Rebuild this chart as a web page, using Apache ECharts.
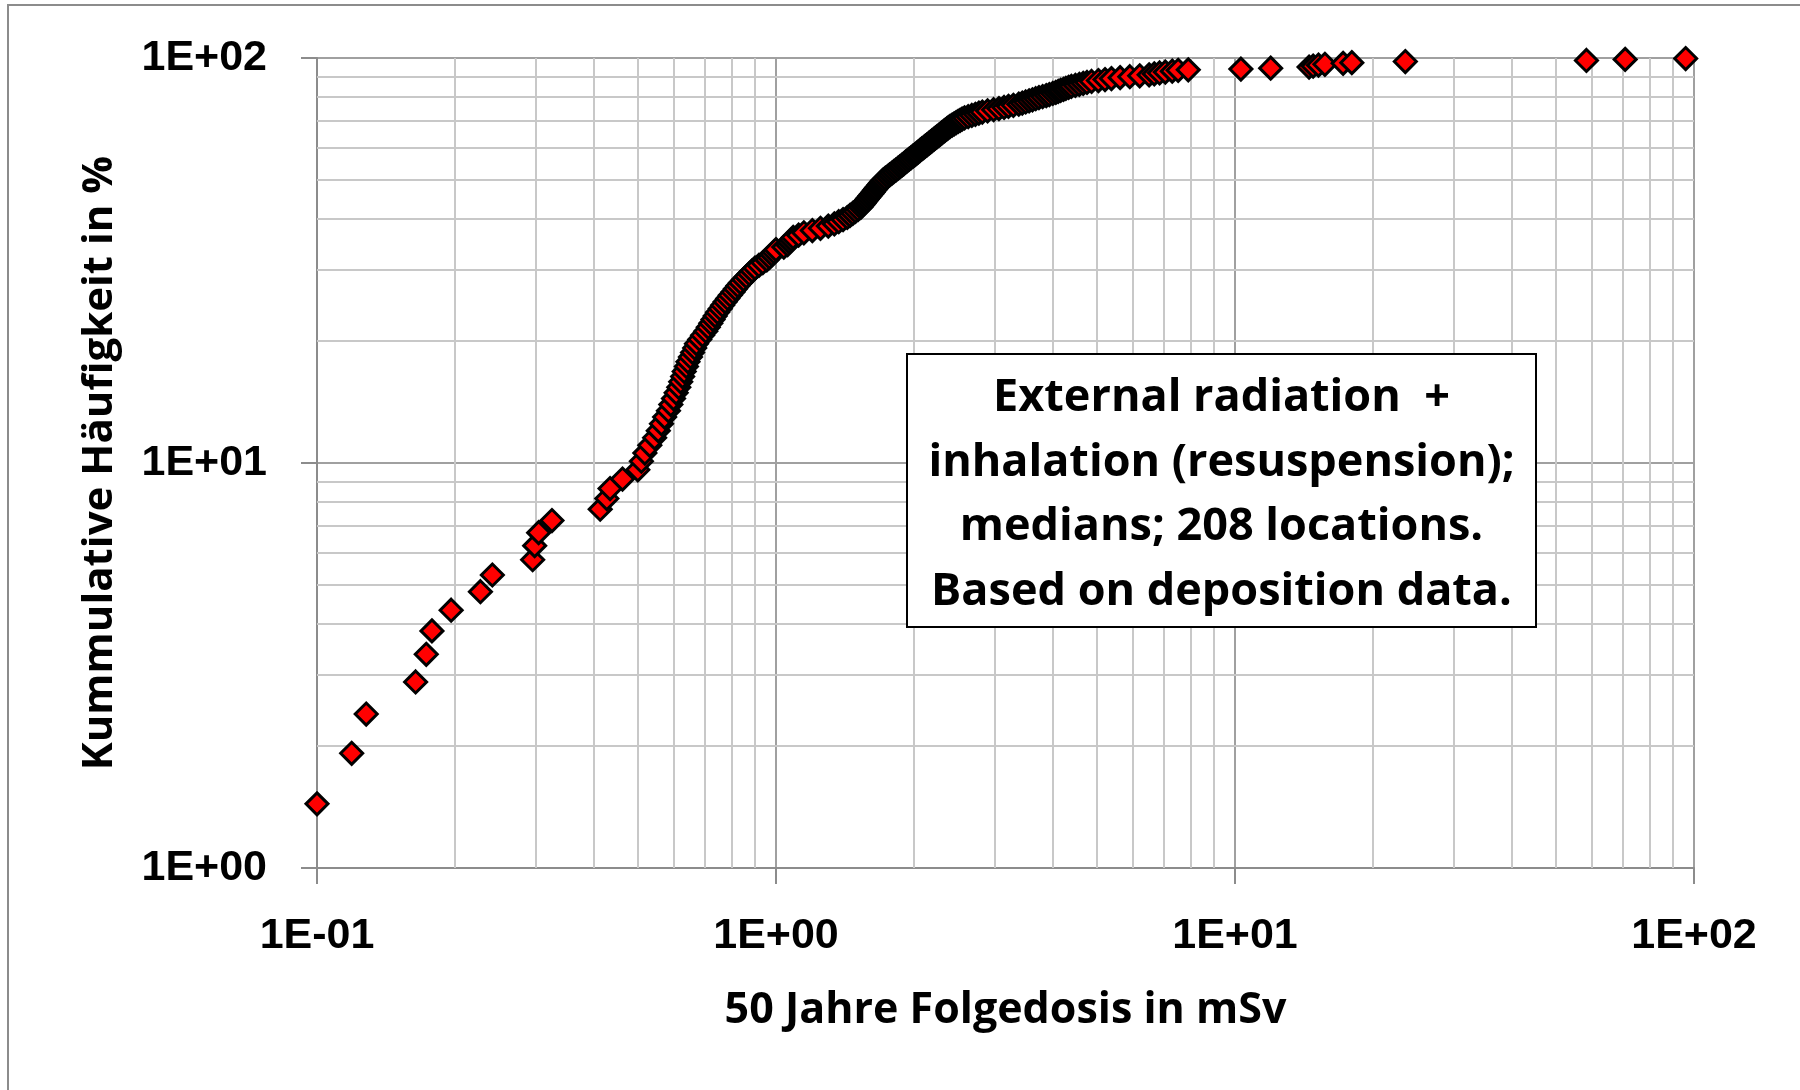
<!DOCTYPE html>
<html><head><meta charset="utf-8">
<script src="https://cdn.jsdelivr.net/npm/echarts@6/dist/echarts.min.js"></script>
<style>html,body{margin:0;padding:0;background:#fff}#chart{width:1800px;height:1090px}</style>
</head><body><div id="chart"></div>
<script>
// Tick values and labels
const xTickValues = [0.1, 1, 10, 100];
const xTickLabels = ['1E-01', '1E+00', '1E+01', '1E+02'];
const yTickValues = [1, 10, 100];
const yTickLabels = ['1E+00', '1E+01', '1E+02'];
const xMinorGrid = [0.2,0.3,0.4,0.5,0.6,0.7,0.8,0.9, 2,3,4,5,6,7,8,9, 20,30,40,50,60,70,80,90];
const yMinorGrid = [2,3,4,5,6,7,8,9, 20,30,40,50,60,70,80,90];

// 50-year committed dose (mSv)
const doseMSv = [
  0.100, 0.119, 0.128, 0.164, 0.173, 0.178, 0.196, 0.227, 0.241, 0.295, 0.298, 0.304, 0.325,
  0.414, 0.428, 0.435, 0.463, 0.500, 0.509, 0.518, 0.531, 0.544, 0.554, 0.563, 0.572, 0.583, 0.590, 0.598, 0.606, 0.614, 0.620,
  0.626, 0.631, 0.638, 0.643, 0.651, 0.658, 0.665, 0.671, 0.682, 0.692, 0.703, 0.712, 0.721, 0.729, 0.737, 0.746, 0.756, 0.765,
  0.775, 0.785, 0.795, 0.806, 0.816, 0.826, 0.837, 0.850, 0.862, 0.875, 0.887, 0.900, 0.918, 0.936, 0.955, 0.968, 0.980, 0.990,
  1.00, 1.04, 1.06, 1.07, 1.08, 1.09, 1.12, 1.15, 1.20, 1.25, 1.30, 1.34, 1.37, 1.40, 1.43, 1.45, 1.47, 1.49, 1.51, 1.53,
  1.542, 1.554, 1.566, 1.578, 1.590, 1.603, 1.615, 1.627, 1.639, 1.651, 1.664, 1.676, 1.688, 1.700, 1.713,
  1.731, 1.750, 1.768, 1.787, 1.805, 1.824, 1.843, 1.861,
  1.879, 1.897, 1.915, 1.933, 1.951, 1.970, 1.988, 2.006, 2.024,
  2.042, 2.060, 2.078, 2.097, 2.115, 2.133, 2.152, 2.170, 2.188,
  2.207, 2.226, 2.244, 2.263, 2.281, 2.300, 2.319, 2.337, 2.356, 2.374,
  2.395, 2.419, 2.444, 2.469, 2.494, 2.518, 2.543,
  2.575, 2.623, 2.671, 2.719, 2.767, 2.815,
  2.89, 2.98, 3.06, 3.14, 3.21, 3.29,
  3.38, 3.44, 3.50, 3.56, 3.62, 3.68,
  3.74, 3.81, 3.88, 3.94, 4.01,
  4.07, 4.12, 4.17, 4.23, 4.28, 4.34,
  4.40, 4.49, 4.58, 4.67, 4.76,
  4.87, 5.04, 5.21, 5.38,
  5.62, 5.90,
  6.20, 6.50,
  6.67, 6.85, 7.05, 7.30, 7.52,
  7.91, 10.3, 11.96, 14.5, 14.8, 15.2, 15.7, 17.2, 17.97, 23.5, 58.3, 70.8, 95.9
];

// Cumulative frequency (%)
const cumFreqPct = [
  1.44, 1.92, 2.40, 2.88, 3.37, 3.85, 4.33, 4.81, 5.29, 5.77, 6.25, 6.73, 7.21,
  7.69, 8.17, 8.65, 9.13, 9.62, 10.10, 10.58, 11.06, 11.54, 12.02, 12.50, 12.98, 13.46, 13.94, 14.42, 14.90, 15.38, 15.87,
  16.35, 16.83, 17.31, 17.79, 18.27, 18.75, 19.23, 19.71, 20.19, 20.67, 21.15, 21.63, 22.12, 22.60, 23.08, 23.56, 24.04, 24.52,
  25.00, 25.48, 25.96, 26.44, 26.92, 27.40, 27.88, 28.37, 28.85, 29.33, 29.81, 30.29, 30.77, 31.25, 31.73, 32.21, 32.69, 33.17,
  33.65, 34.13, 34.62, 35.10, 35.58, 36.06, 36.54, 37.02, 37.50, 37.98, 38.46, 38.94, 39.42, 39.90, 40.38, 40.87, 41.35, 41.83, 42.31, 42.79,
  43.27, 43.75, 44.23, 44.71, 45.19, 45.67, 46.15, 46.63, 47.12, 47.60, 48.08, 48.56, 49.04, 49.52, 50.00,
  50.48, 50.96, 51.44, 51.92, 52.40, 52.88, 53.37, 53.85,
  54.33, 54.81, 55.29, 55.77, 56.25, 56.73, 57.21, 57.69, 58.17,
  58.65, 59.13, 59.62, 60.10, 60.58, 61.06, 61.54, 62.02, 62.50,
  62.98, 63.46, 63.94, 64.42, 64.90, 65.38, 65.87, 66.35, 66.83, 67.31,
  67.79, 68.27, 68.75, 69.23, 69.71, 70.19, 70.67,
  71.15, 71.63, 72.12, 72.60, 73.08, 73.56,
  74.04, 74.52, 75.00, 75.48, 75.96, 76.44,
  76.92, 77.40, 77.88, 78.37, 78.85, 79.33,
  79.81, 80.29, 80.77, 81.25, 81.73,
  82.21, 82.69, 83.17, 83.65, 84.13, 84.62,
  85.10, 85.58, 86.06, 86.54, 87.02,
  87.50, 87.98, 88.46, 88.94,
  89.42, 89.90,
  90.38, 90.87,
  91.35, 91.83, 92.31, 92.79, 93.27,
  93.5, 93.9, 94.4, 95.0, 95.5, 96.0, 96.5, 97.0, 97.4, 98.0, 98.6, 99.2, 99.7
];

const annotationLines = [
  'External radiation  +',
  'inhalation (resuspension);',
  'medians; 208 locations.',
  'Based on deposition data.'
];

function fmt(values, labels) {
  return function (v) {
    for (let i = 0; i < values.length; i++) {
      if (Math.abs(Math.log10(v / values[i])) < 1e-6) return labels[i];
    }
    return '';
  };
}

const points = doseMSv.map((x, i) => [x, cumFreqPct[i]]);

const chart = echarts.init(document.getElementById('chart'), null, { renderer: 'canvas' });
const tickFont = { fontFamily: 'Liberation Sans', fontWeight: 'bold', fontSize: 43, color: '#000' };
const titleFont = { fontFamily: 'Open Sans', fontWeight: 'bold', fontSize: 43, color: '#000' };
const axisGray = '#8c8c8c';

chart.setOption({
  animation: false,
  backgroundColor: '#fff',
  grid: { left: 317, right: 106, top: 58, bottom: 222 },
  xAxis: {
    type: 'log', logBase: 10, min: 0.1, max: 100,
    name: '50 Jahre Folgedosis in mSv', nameLocation: 'middle', nameGap: 121,
    nameTextStyle: titleFont,
    axisLine: { show: true, onZero: false, lineStyle: { color: axisGray, width: 2 } },
    axisTick: { show: true, length: 16, lineStyle: { color: axisGray, width: 2 } },
    axisLabel: Object.assign({ margin: 47, formatter: fmt(xTickValues, xTickLabels) }, tickFont),
    splitLine: { show: true, lineStyle: { color: '#a0a0a0', width: 2 } }
  },
  yAxis: {
    type: 'log', logBase: 10, min: 1, max: 100,
    name: 'Kummulative Häufigkeit in %', nameLocation: 'middle', nameGap: 196, nameRotate: 90,
    nameTextStyle: Object.assign({}, titleFont, { fontSize: 42 }),
    axisLine: { show: true, onZero: false, lineStyle: { color: axisGray, width: 2 } },
    axisTick: { show: true, length: 16, lineStyle: { color: axisGray, width: 2 } },
    axisLabel: Object.assign({ margin: 50, formatter: fmt(yTickValues, yTickLabels) }, tickFont),
    splitLine: { show: true, lineStyle: { color: '#a0a0a0', width: 2 } }
  },
  series: [{
    type: 'scatter',
    data: points,
    symbol: 'diamond',
    symbolSize: 22,
    clip: false,
    z: 3,
    itemStyle: { color: '#ff0000', borderColor: '#000', borderWidth: 3, opacity: 1 },
    emphasis: { disabled: true },
    markLine: {
      silent: true, z: 1, animation: false,
      symbol: ['none', 'none'],
      label: { show: false },
      emphasis: { disabled: true },
      lineStyle: { color: '#c8c8c8', width: 2, type: 'solid' },
      data: xMinorGrid.map(v => ({ xAxis: v })).concat(yMinorGrid.map(v => ({ yAxis: v })))
    }
  }],
  graphic: [
    { type: 'rect', silent: true, z: -10, shape: { x: 8, y: 5, width: 1820, height: 1120 },
      style: { fill: 'none', stroke: '#8c8c8c', lineWidth: 2 } },
    { type: 'rect', silent: true, z: 100, shape: { x: 907, y: 354, width: 629, height: 273 },
      style: { fill: '#fff', stroke: '#000', lineWidth: 2 } },
    { type: 'text', silent: true, z: 101, x: 1221.5, y: 495,
      style: { text: annotationLines.join('\n'), fill: '#000', align: 'center', verticalAlign: 'middle',
               font: 'bold 45px "Open Sans"', lineHeight: 64.5 } }
  ]
});
</script>
</body></html>
